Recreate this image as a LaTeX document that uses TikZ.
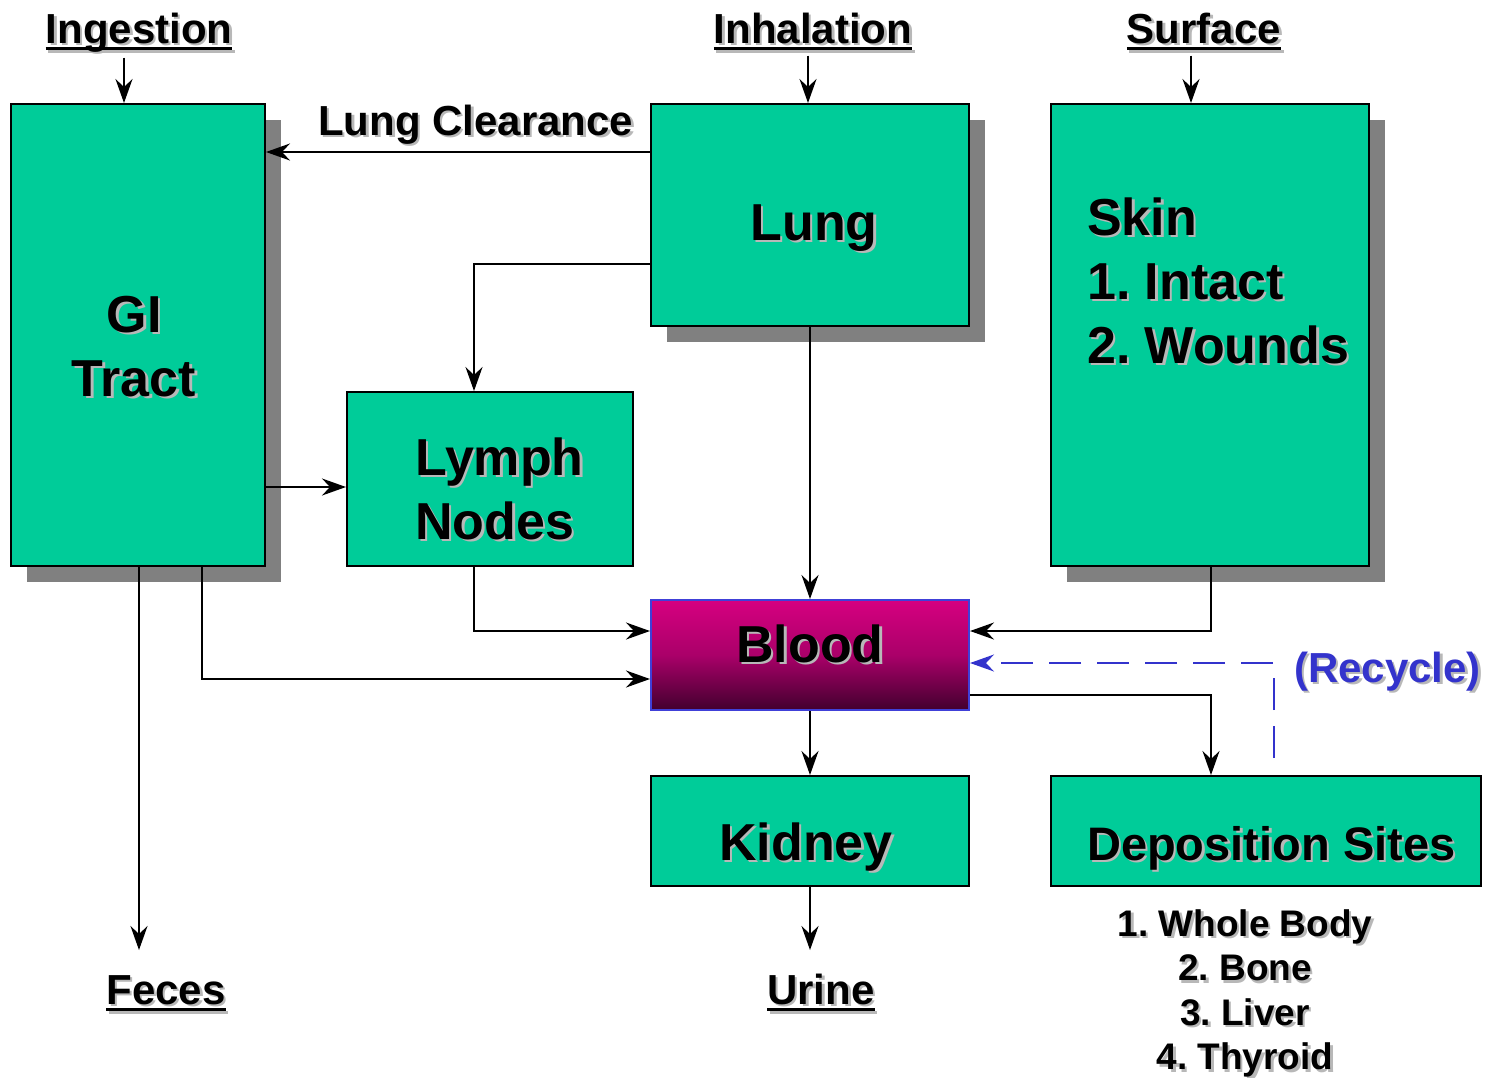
\documentclass[tikz,border=0pt]{standalone}
\usepackage{fontspec}
\setmainfont{Liberation Sans}
\usetikzlibrary{arrows.meta,shadows}
\definecolor{boxgreen}{RGB}{0,204,153}
\definecolor{shadowgray}{RGB}{128,128,128}
\definecolor{recyc}{RGB}{51,51,204}
\definecolor{bloodtop}{RGB}{214,0,128}
\definecolor{bloodbot}{RGB}{66,0,46}
\newcommand\txsh[1]{\makebox[0pt][l]{\hspace{2.5pt}\raisebox{-2.5pt}{\color{black!28}#1}}#1}
\newcommand\myul[1]{\setbox0\hbox{#1}\rlap{\rule[-7pt]{\wd0}{3pt}}\box0}
\newcommand\mylines[2]{\begin{tabular}[t]{@{}#1@{}}#2\end{tabular}}
\frenchspacing
\begin{document}
\begin{tikzpicture}[x=1pt,y=-1pt,
  box/.style={draw=black,line width=2pt,fill=boxgreen,inner sep=0pt},
  shbox/.style={box,drop shadow={shadow xshift=16pt,shadow yshift=-16pt,fill=shadowgray,opacity=1}},
  big/.style={font=\fontsize{52}{64}\selectfont\bfseries\frenchspacing,inner sep=0pt},
  mid/.style={font=\fontsize{42}{50}\selectfont\bfseries\frenchspacing,inner sep=0pt},
  dep/.style={font=\fontsize{47}{56}\selectfont\bfseries\frenchspacing,inner sep=0pt},
  small/.style={font=\fontsize{37}{44.5}\selectfont\bfseries\frenchspacing,inner sep=0pt},
  tip/.style={-{Stealth[length=24pt,width=17pt,inset=8pt]}},
  arr/.style={line width=2pt,tip},
  recarr/.style={line width=2pt,draw=recyc,dash pattern=on 32pt off 16pt,tip}]
\useasboundingbox (0,0) rectangle (1493,1077);

% boxes
\node[shbox,minimum width=254,minimum height=462] (gi) at (138,335) {};
\node[shbox,minimum width=318,minimum height=222] (lung) at (810,215) {};
\node[shbox,minimum width=318,minimum height=462] (skin) at (1210,335) {};
\node[box,minimum width=286,minimum height=174] (lymph) at (490,479) {};
\node[draw={rgb,255:red,64;green,64;blue,216},line width=2pt,inner sep=0pt,
  top color=bloodtop,bottom color=bloodbot,middle color={rgb,255:red,170;green,0;blue,105},
  minimum width=318,minimum height=110] (blood) at (810,655) {};
\node[box,minimum width=318,minimum height=110] (kidney) at (810,831) {};
\node[box,minimum width=430,minimum height=110] (depo) at (1266,831) {};

% box texts
\node[big,anchor=base] (gitx) at (134,332) {\txsh{\mylines{c}{GI\\Tract}}};
\node[big,anchor=base] (lungtx) at (814,240) {\txsh{Lung}};
\node[big,anchor=base west] (skintx) at (1087,235) {\txsh{\mylines{l}{Skin\\1. Intact\\2. Wounds}}};
\node[big,anchor=base west] (lymphtx) at (415,475) {\txsh{\mylines{l}{Lymph\\Nodes}}};
\node[big,anchor=base] (bloodtx) at (810,662) {\txsh{Blood}};
\node[big,anchor=base] (kidtx) at (806,860) {\txsh{Kidney}};
\node[dep,anchor=base west] (deptx) at (1087,860) {\txsh{Deposition Sites}};

% outer labels
\node[mid,anchor=base] (ing) at (139,43) {\txsh{\myul{Ingestion}}};
\node[mid,anchor=base] (inh) at (813,43) {\txsh{\myul{Inhalation}}};
\node[mid,anchor=base] (surf) at (1204,43) {\txsh{\myul{Surface}}};
\node[mid,anchor=base] (feces) at (166,1004) {\txsh{\myul{Feces}}};
\node[mid,anchor=base] (urine) at (821,1004) {\txsh{\myul{Urine}}};
\node[mid,anchor=base west] (lclr) at (318,135) {\txsh{Lung Clearance}};
\node[mid,anchor=base west,text=recyc] (recy) at (1294,682) {\txsh{(Recycle)}};
\node[small,anchor=base] (sites) at (1245,936) {\txsh{\mylines{c}{1. Whole Body\\2. Bone\\3. Liver\\4. Thyroid}}};

% connectors
\coordinate (fecesend) at (139,950);
\coordinate (urineend) at (810,950);
\coordinate (recstart) at (1274,758);
\draw[arr] (ing.south -| 124,0) ++(0,3) -- (gi.north -| 124,0);
\draw[arr] (inh.south -| 808,0) ++(0,3) -- (lung.north -| 808,0);
\draw[arr] (surf.south -| 1191,0) ++(0,3) -- (skin.north -| 1191,0);
\draw[arr] (lung.west |- 0,152) -- (gi.east |- 0,152);
\draw[arr] (lung.west |- 0,264) -| (lymph.north -| 474,0);
\draw[arr] (lung.south) -- (blood.north);
\draw[arr] (gi.east |- 0,487) -- (lymph.west |- 0,487);
\draw[arr] (gi.south -| fecesend) -- (fecesend);
\draw[arr] (gi.south -| 202,0) |- (blood.west |- 0,679);
\draw[arr] (lymph.south -| 474,0) |- (blood.west |- 0,631);
\draw[arr] (skin.south -| 1211,0) |- (blood.east |- 0,631);
\draw[arr] (blood.east |- 0,695) -| (depo.north -| 1211,0);
\draw[recarr] (recstart) |- (blood.east |- 0,663);
\draw[arr] (blood.south) -- (kidney.north);
\draw[arr] (kidney.south) -- (urineend);
\end{tikzpicture}
\end{document}
